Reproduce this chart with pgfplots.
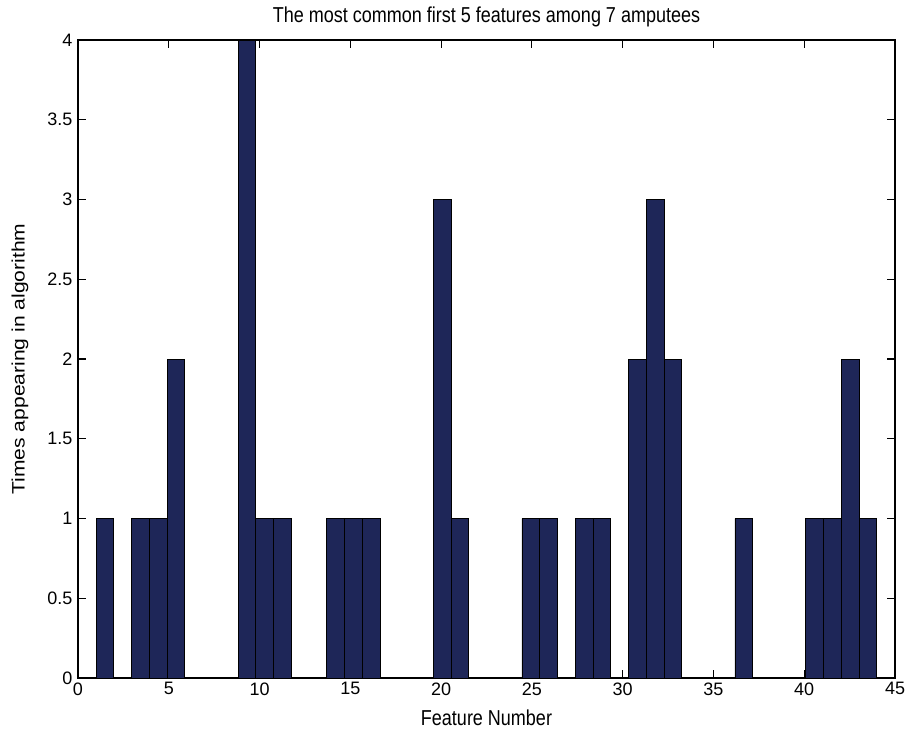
\documentclass[border=0pt]{standalone}
\usepackage{fontspec}
\setmainfont{Liberation Sans}
\usepackage{pgfplots}
\pgfplotsset{compat=1.18}
\definecolor{barnavy}{RGB}{30,38,88}

\begin{document}
\begin{tikzpicture}
% fixed page frame around the axis box
\useasboundingbox (-78pt,-54pt) rectangle (831pt,678pt);
\begin{axis}[
  at={(0pt,0pt)}, anchor=south west,
  scale only axis, width=817pt, height=638pt,
  xmin=0, xmax=45, ymin=0, ymax=4,
  xtick={0,5,10,15,20,25,30,35,40,45},
  ytick={0,0.5,1,1.5,2,2.5,3,3.5,4},
  tick align=inside, tick pos=both, major tick length=8pt,
  axis line style={line width=1.2pt},
  every tick/.style={line width=1.2pt, black},
  /pgf/number format/assume math mode=true,
  ticklabel style={font=\fontsize{18}{20}\selectfont},
  xticklabel style={yshift=-1pt},
  yticklabel style={xshift=-2pt},
  title={\scalebox{1}[1.2]{The most common first 5 features among 7 amputees}},
  title style={at={(axis description cs:0.5,1)}, anchor=center, yshift=17pt,
    font=\fontsize{18}{20}\selectfont},
  xlabel={\scalebox{1}[1.2]{Feature Number}},
  xlabel style={at={(axis description cs:0.5,0)}, anchor=center, yshift=-40pt,
    font=\fontsize{18}{20}\selectfont},
  ylabel={\scalebox{1.17}[1]{Times appearing in algorithm}},
  ylabel style={at={(axis description cs:-0.071,0.5)}, anchor=center,
    font=\fontsize{18}{20}\selectfont},
]
% histogram of 44 bins between 1 and 44 (bin width 43/44); empty bins omitted
\addplot[ybar, bar width=0.97727, bar shift=0pt, fill=barnavy, draw=black,
  line width=0.8pt] coordinates {
  (1.4886,1) (3.4432,1) (4.4205,1) (5.3977,2)
  (9.3068,4) (10.2841,1) (11.2614,1)
  (14.1932,1) (15.1705,1) (16.1477,1)
  (20.0568,3) (21.0341,1)
  (24.9432,1) (25.9205,1)
  (27.875,1) (28.8523,1)
  (30.8068,2) (31.7841,3) (32.7614,2)
  (36.6705,1)
  (40.5795,1) (41.5568,1) (42.5341,2) (43.5114,1)
};
\end{axis}
\end{tikzpicture}
\end{document}
